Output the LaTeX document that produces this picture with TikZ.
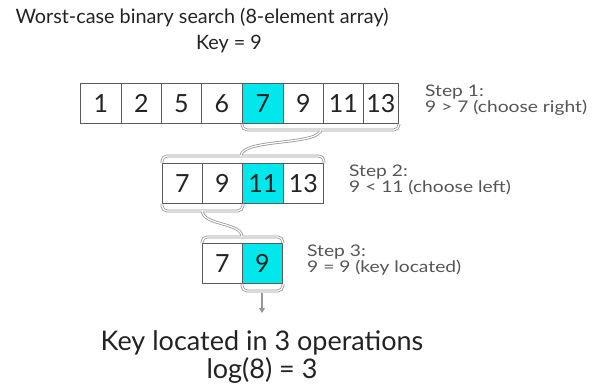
\documentclass[tikz,border=0pt]{standalone}
\usepackage{fontspec}
\setmainfont{Lato}
\newfontfamily\stepfont[FakeStretch=1.2]{Lato}
\usetikzlibrary{arrows.meta}
\definecolor{hl}{RGB}{0,232,235}
\definecolor{txt}{RGB}{35,35,35}
\definecolor{stepc}{RGB}{85,85,85}
\definecolor{brc}{RGB}{150,150,150}
\definecolor{cellline}{RGB}{90,90,90}
\begin{document}
\begin{tikzpicture}[x=1pt,y=-1pt,
  cell/.style={draw=cellline, line width=0.9pt, inner sep=0pt, anchor=north west,
    minimum height=40pt, font=\fontsize{25}{25}\selectfont, text=txt},
  hlcell/.style={cell, fill=hl},
  outer/.style={draw=brc, line width=2.8pt, rounded corners=5pt},
  inner/.style={draw=white, line width=1.2pt, rounded corners=5pt},
  titletext/.style={font=\fontsize{19.8}{19.8}\selectfont, text=txt, inner sep=0pt, anchor=base},
  bigtext/.style={font=\fontsize{27}{27}\selectfont, text=txt, inner sep=0pt, anchor=base},
  steptext/.style={font=\stepfont\fontsize{16}{16}\selectfont, text=stepc, anchor=base west, inner sep=0pt},
  arr/.style={draw=brc, line width=1.2pt, -{Triangle[length=5pt,width=6pt]}}
]
\useasboundingbox (0,0) rectangle (597,389);
% texts
\node[titletext] (t1) at (202,23) {Worst-case binary search (8-element array)};
\node[titletext] (t2) at (229,49) {Key = 9};
% row 1
\node[cell, minimum width=41pt] (a1) at (80,83) {1};
\node[cell, minimum width=40pt] (a2) at (121,83) {2};
\node[cell, minimum width=40pt] (a3) at (161,83) {5};
\node[cell, minimum width=41pt] (a4) at (201,83) {6};
\node[hlcell, minimum width=41pt] (a5) at (242,83) {7};
\node[cell, minimum width=40pt] (a6) at (283,83) {9};
\node[cell, minimum width=40pt] (a7) at (323,83) {11};
\node[cell, minimum width=35pt] (a8) at (363,83) {13};
% row 2
\node[cell, minimum width=40pt] (b1) at (162,163) {7};
\node[cell, minimum width=40pt] (b2) at (202,163) {9};
\node[hlcell, minimum width=41pt] (b3) at (242,163) {11};
\node[cell, minimum width=40pt] (b4) at (283,163) {13};
% row 3
\node[cell, minimum width=40pt] (c1) at (202,243) {7};
\node[hlcell, minimum width=40pt] (c2) at (242,243) {9};
% braces
\foreach \st in {outer,inner}{
  \draw[\st] (a5.south west) -- ++(0,6) -| (a8.south east);
  \draw[\st] (b1.north west) -- ++(0,-7) -| (b4.north east);
  \draw[\st] (321,129) .. controls (321,146) and (241,138) .. (241,156);
  \draw[\st] (b1.south west) -- ++(0,7) -| (b2.south east);
  \draw[\st] (c1.north west) -- ++(0,-6) -| (c2.north east);
  \draw[\st] (202,210) .. controls (202,226) and (242,222) .. (242,237);
  \draw[\st] (c2.south west) -- ++(0,7) -| (c2.south east);
}
\coordinate (tip) at (262,313);
\draw[arr] (262,293) -- (tip);
% step texts
\node[steptext] (s1a) at (425,96) {Step 1:};
\node[steptext] (s1b) at (425,112) {9 > 7 (choose right)};
\node[steptext] (s2a) at (349,176) {Step 2:};
\node[steptext] (s2b) at (349,192) {9 < 11 (choose left)};
\node[steptext] (s3a) at (307,256) {Step 3:};
\node[steptext] (s3b) at (307,272) {9 = 9 (key located)};
% bottom text
\node[bigtext] (k1) at (262,350) {Key located in 3 operations};
\node[bigtext] (k2) at (262,378) {log(8) = 3};
\end{tikzpicture}
\end{document}
